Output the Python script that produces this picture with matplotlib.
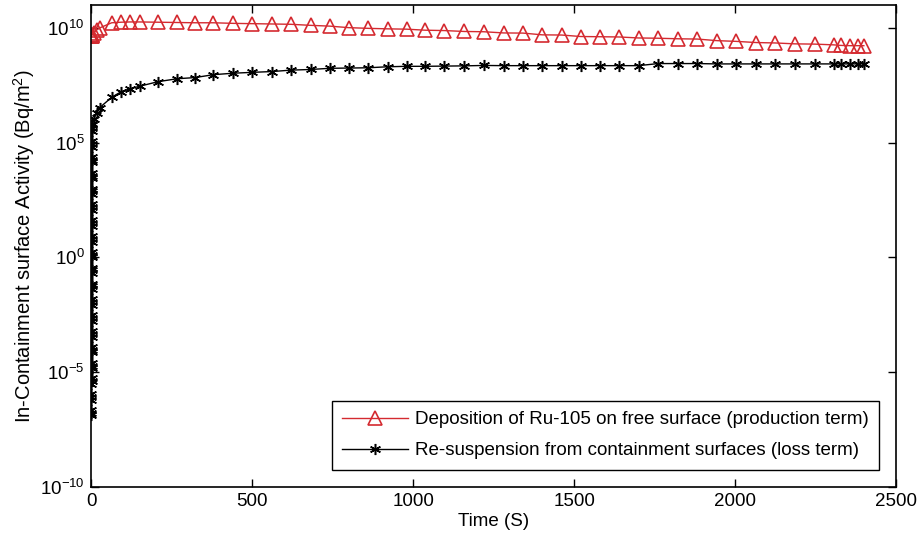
import numpy as np
import matplotlib
matplotlib.use("Agg")
import matplotlib.pyplot as plt

plt.rcParams['font.family'] = ['Liberation Sans', 'DejaVu Sans']
plt.rcParams['mathtext.fontset'] = 'custom'
plt.rcParams['mathtext.rm'] = 'Liberation Sans'
plt.rcParams['axes.unicode_minus'] = False

# early (near t=0) solver steps, deposition term
t_red_start = [0.0, 0.3, 0.8, 1.5]
red_start = [4.5e9, 4.6e9, 4.8e9, 5.0e9]

# early (near t=0) solver steps, re-suspension term
t_black_start = [0.0, 0.02, 0.04, 0.06, 0.08, 0.10, 0.12, 0.14, 0.16, 0.18,
                 0.20, 0.22, 0.24, 0.26, 0.28, 0.30, 0.33, 0.36, 0.39, 0.42,
                 0.45, 0.48, 0.51, 0.54, 0.57, 0.60, 0.64, 0.68, 0.72, 0.76,
                 0.80, 0.84, 0.88, 0.92, 0.96, 1.00, 1.05, 1.10, 1.15, 1.20,
                 1.25, 1.30, 1.35, 1.40, 1.45, 1.50, 1.56, 1.62, 1.68, 1.74,
                 1.80, 1.86, 1.92, 1.98, 2.04, 2.10, 2.20]
black_start = [1.3e-7, 1.7e-7, 2.2e-7, 6.2e-7, 8.1e-7, 1.1e-6,
               3.0e-6, 4.0e-6, 5.2e-6, 1.5e-5, 1.9e-5, 2.5e-5,
               7.2e-5, 9.5e-5, 1.25e-4, 3.5e-4, 4.6e-4, 6.1e-4,
               1.7e-3, 2.3e-3, 3.0e-3, 8.5e-3, 1.1e-2, 1.5e-2,
               4.2e-2, 5.5e-2, 7.2e-2, 0.20, 0.27, 0.35,
               1.0, 1.3, 1.7, 4.9, 6.4, 8.5,
               24, 32, 42, 117, 155, 205,
               575, 760, 1000, 2.8e3, 3.7e3, 4.9e3,
               1.4e4, 1.8e4, 2.4e4, 6.8e4, 8.9e4, 1.2e5,
               3.3e5, 4.4e5, 5.8e5]

# main time steps (s)
t_main = [2.5, 8, 16, 26, 63, 92, 119, 151, 207, 266, 322, 379, 441, 500,
          561, 620, 681, 740, 800, 860, 920, 979, 1037, 1096, 1159, 1219,
          1281, 1341, 1401, 1461, 1520, 1581, 1640, 1700, 1761, 1823, 1883,
          1944, 2003, 2065, 2125, 2186, 2247, 2306, 2328, 2358, 2381, 2400]

red_main = [5.2e9, 6.5e9, 8.5e9, 1.05e10, 1.75e10, 1.85e10, 1.9e10, 1.9e10,
            1.85e10, 1.8e10, 1.75e10, 1.75e10, 1.65e10, 1.6e10,
            1.55e10, 1.5e10, 1.35e10, 1.25e10, 1.07e10, 1.0e10, 9.5e9, 9.2e9,
            8.3e9, 8.0e9, 7.3e9, 7.1e9,
            6.3e9, 6.2e9, 5.2e9, 5.1e9, 4.4e9, 4.3e9, 4.2e9, 3.8e9, 3.7e9,
            3.5e9, 3.4e9,
            2.9e9, 2.7e9, 2.4e9, 2.3e9, 2.1e9, 2.05e9, 1.9e9, 1.8e9, 1.75e9,
            1.75e9, 1.75e9]

black_main = [6.9e5, 1.15e6, 2.1e6, 3.5e6, 9.8e6, 1.7e7, 2.3e7, 3.0e7,
              4.7e7, 6.3e7, 7.1e7, 9.5e7, 1.1e8, 1.2e8,
              1.3e8, 1.5e8, 1.6e8, 1.8e8, 1.85e8, 1.9e8, 2.1e8, 2.2e8,
              2.2e8, 2.25e8, 2.3e8, 2.4e8,
              2.35e8, 2.35e8, 2.35e8, 2.35e8, 2.35e8, 2.35e8, 2.35e8, 2.35e8,
              2.9e8, 2.9e8, 2.9e8,
              2.8e8, 2.8e8, 2.8e8, 2.8e8, 2.8e8, 2.8e8, 2.8e8, 2.8e8, 2.8e8,
              2.8e8, 2.8e8]

labels = ["Deposition of Ru-105 on free surface (production term)",
          "Re-suspension from containment surfaces (loss term)"]

t_red = np.concatenate([t_red_start, t_main])
y_red = np.concatenate([red_start, red_main])
t_black = np.concatenate([t_black_start, t_main])
y_black = np.concatenate([black_start, black_main])

red = '#d42a30'
fs = 13.5

fig = plt.figure(figsize=(9.21, 5.43), dpi=100)
ax = fig.add_axes([0.0993, 0.104, 0.8736, 0.886])

ax.semilogy(t_red, y_red, color=red, lw=1.0, marker='^', ms=10,
            mfc='none', mec=red, mew=1.2, label=labels[0])
ax.semilogy(t_black, y_black, color='black', lw=1.0, marker=(6, 2, 0), ms=8,
            mec='black', mew=1.1, label=labels[1])

ax.set_xlim(0, 2500)
ax.set_ylim(1e-10, 1e11)
ax.set_xticks([0, 500, 1000, 1500, 2000, 2500])
ax.set_yticks([1e-10, 1e-5, 1e0, 1e5, 1e10])
ax.yaxis.set_minor_locator(matplotlib.ticker.NullLocator())
ax.tick_params(axis='both', which='major', direction='in', length=6,
               width=1.0, top=True, right=True, labelsize=fs, pad=5)
for s in ax.spines.values():
    s.set_linewidth(1.2)

ax.set_xlabel('Time (S)', fontsize=fs, labelpad=2)
ax.set_ylabel('In-Containment surface Activity (Bq/m$^2$)', fontsize=14.5,
              labelpad=2)

leg = ax.legend(loc='lower right', fontsize=fs, numpoints=1, handlelength=3.5,
                fancybox=False, framealpha=1, edgecolor='black',
                borderaxespad=0.9, handletextpad=0.4, labelspacing=0.75,
                borderpad=0.55)
leg.get_frame().set_linewidth(1.0)

fig.savefig('out.png', dpi=100)
